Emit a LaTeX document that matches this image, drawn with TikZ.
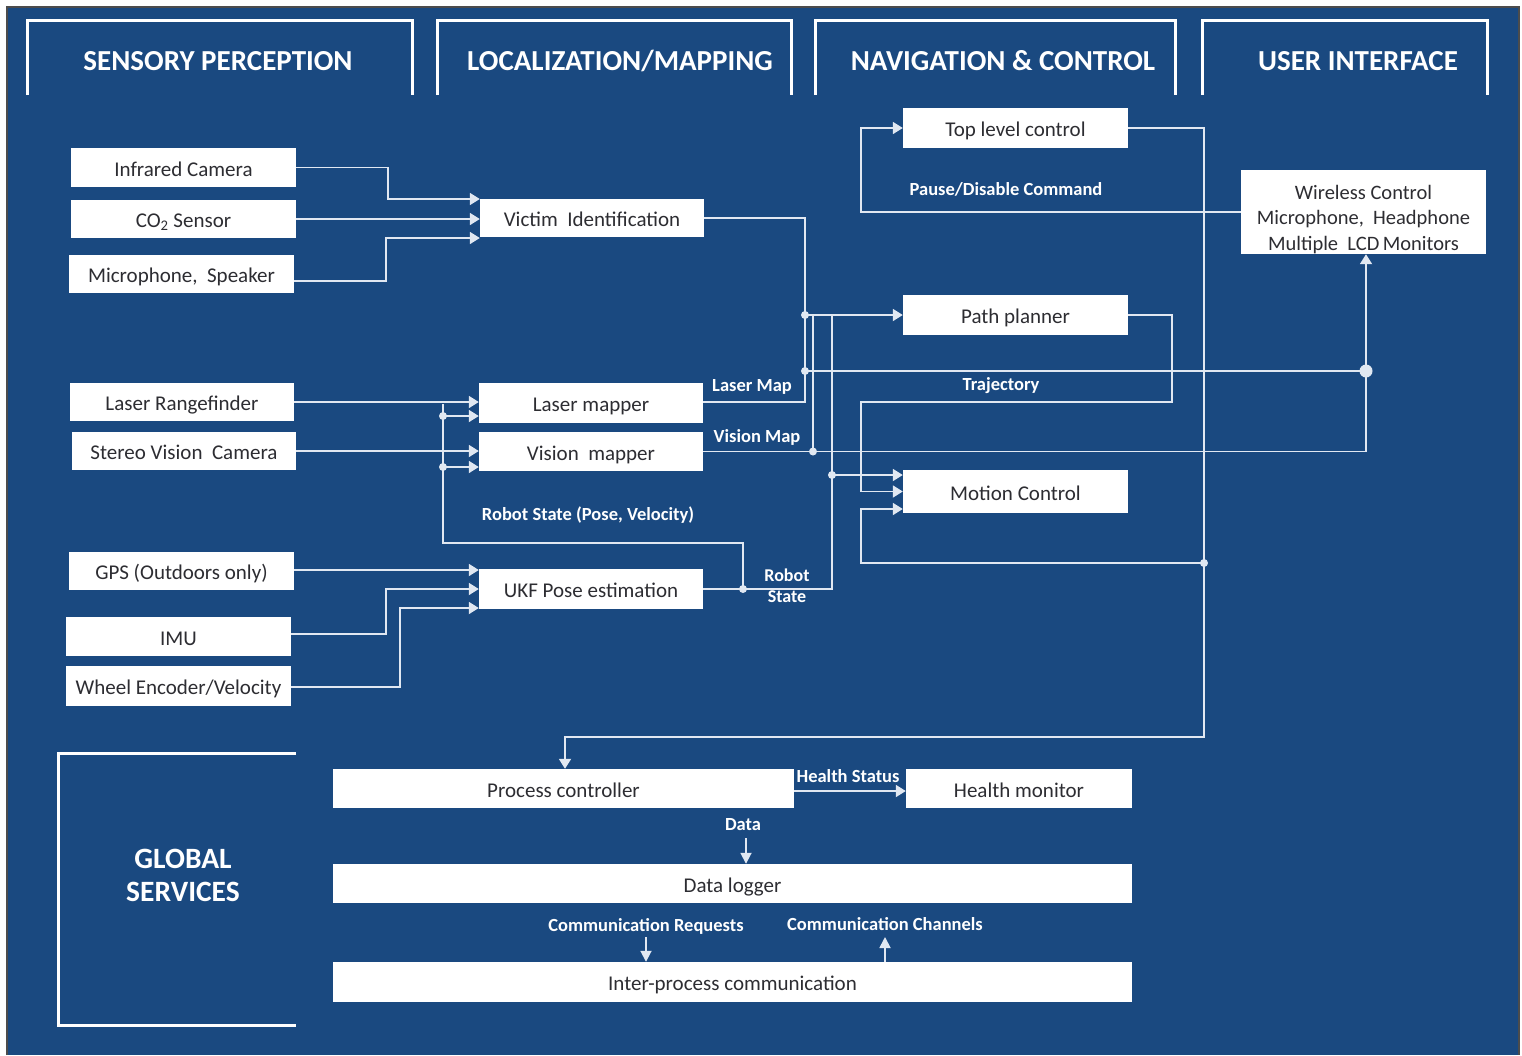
\documentclass[tikz,border=0pt]{standalone}
\usepackage{fontspec}
\setmainfont{Carlito}
\usetikzlibrary{arrows.meta}
\definecolor{bg}{RGB}{26,73,128}
\definecolor{wirec}{RGB}{225,232,242}
\definecolor{boxtext}{RGB}{45,45,50}
\tikzset{
  boxbase/.style={fill=white, draw=none, inner sep=0pt, text=boxtext},
  box/.style={boxbase, font=\fontsize{21}{25}\selectfont, text height=17pt, text depth=0pt},
  wire/.style={draw=wirec, line width=1.8pt},
  arr/.style={wire, -{Triangle[length=10pt,width=12pt]}},
  sarr/.style={wire, -{Triangle[length=11pt,width=11pt]}},
  jdot/.style={circle, fill=wirec, inner sep=0pt, minimum size=8pt},
  bigdot/.style={circle, fill=wirec, inner sep=0pt, minimum size=13pt},
  lbl/.style={text=white, font=\bfseries\fontsize{18.5}{21}\selectfont, inner sep=0pt, align=center},
  hdrtxt/.style={text=white, font=\bfseries\fontsize{29}{33}\selectfont, inner sep=0pt, align=center},
  hdr/.style={draw=white, line width=3pt},
}
\begin{document}
\begin{tikzpicture}[x=1pt,y=-1pt]
\useasboundingbox (0,0) rectangle (1522,1055);
\fill[white] (0,0) rectangle (1522,1055);
\fill[bg] (7,7) rectangle (1519,1055);
\draw[gray!60!black, line width=1.2pt] (7,1055) -- (7,7) -- (1519,7) -- (1519,1055);

% headers
\draw[hdr] (27,95) -- (27,20) -- (412,20) -- (412,95);
\draw[hdr] (437,95) -- (437,20) -- (791,20) -- (791,95);
\draw[hdr] (815,95) -- (815,20) -- (1175,20) -- (1175,95);
\draw[hdr] (1202,95) -- (1202,20) -- (1487,20) -- (1487,95);
\node[hdrtxt] (h1) at (218,61) {SENSORY PERCEPTION};
\node[hdrtxt] (h2) at (620,61) {LOCALIZATION/MAPPING};
\node[hdrtxt] (h3) at (1003,61) {NAVIGATION \& CONTROL};
\node[hdrtxt] (h4) at (1358,61) {USER INTERFACE};

% global services bracket
\draw[hdr] (296,753) -- (58,753) -- (58,1025) -- (296,1025);
\node[hdrtxt, font=\bfseries\fontsize{29.5}{33}\selectfont] (gs) at (183,875) {GLOBAL\\SERVICES};

% boxes
\node[box, minimum width=225pt, minimum height=39pt] (ir)  at (183.5,167.5) {Infrared Camera};
\node[box, minimum width=225pt, minimum height=38pt] (co2) at (183.5,219) {CO\textsubscript{2} Sensor};
\node[box, minimum width=225pt, minimum height=38pt] (mic) at (181.5,274) {Microphone,\ \ Speaker};
\node[box, minimum width=224pt, minimum height=38pt] (vic) at (592,218) {Victim\ \ Identification};
\node[box, minimum width=224pt, minimum height=38pt] (lrf) at (182,402) {Laser Rangefinder};
\node[box, minimum width=224pt, minimum height=38pt] (svc) at (184,451) {Stereo Vision\ \ Camera};
\node[box, minimum width=224pt, minimum height=40pt] (lm)  at (591,403) {Laser mapper};
\node[box, minimum width=224pt, minimum height=39pt] (vm)  at (591,451.5) {Vision\ \ mapper};
\node[box, minimum width=225pt, minimum height=38pt] (gps) at (181.5,571) {GPS (Outdoors only)};
\node[box, minimum width=225pt, minimum height=39pt] (imu) at (178.5,636.5) {IMU};
\node[box, minimum width=225pt, minimum height=40pt] (whl) at (178.5,686) {Wheel Encoder/Velocity};
\node[box, minimum width=224pt, minimum height=40pt] (ukf) at (591,589) {UKF Pose estimation};
\node[box, minimum width=225pt, minimum height=40pt] (top) at (1015.5,128) {Top level control};
\node[boxbase, minimum width=245pt, minimum height=84pt, font=\fontsize{20.5}{25.5}\selectfont] (wl) at (1363.5,212)
  {\raisebox{-13pt}[0pt][0pt]{\begin{tabular}{@{}c@{}}Wireless Control\\ Microphone,\ \ Headphone\\ Multiple\ \ LCD\,Monitors\end{tabular}}};
\node[box, minimum width=225pt, minimum height=40pt] (pp)  at (1015.5,315) {Path planner};
\node[box, minimum width=225pt, minimum height=43pt] (mc)  at (1015.5,491.5) {Motion Control};
\node[box, minimum width=461pt, minimum height=39pt] (pc)  at (563.5,788.5) {Process controller};
\node[box, minimum width=226pt, minimum height=39pt] (hm)  at (1019,788.5) {Health monitor};
\node[box, minimum width=799pt, minimum height=39pt] (dl)  at (732.5,883.5) {Data logger};
\node[box, minimum width=799pt, minimum height=40pt] (ipc) at (732.5,982) {Inter-process communication};

% junction coordinates
\coordinate (j1) at (805,315);
\coordinate (j2) at (805,371);
\coordinate (j3) at (813,451.5);
\coordinate (j4) at (832,475);
\coordinate (rsd) at (743,589);
\coordinate (rsc) at (832,589);
\coordinate (uidot) at (1366,371);
\coordinate (topdot) at (1204,563);
\coordinate (lmd) at (443,416);
\coordinate (vmd) at (443,467);

% sensory -> victim identification
\draw[arr] (ir.east) -- (388,167.5) -- (388,199) -- (vic.west |- 0,199);
\draw[arr] (co2.east) -- (vic.west |- co2.east);
\draw[arr] (mic.east |- 0,281) -- (386,281) -- (386,238) -- (vic.west |- 0,238);

% victim id / laser map bus
\draw[wire] (vic.east) -| (j1);
\draw[wire] (j1) -- (j2);
\draw[wire] (lm.east |- 0,402) -| (j2);
\draw[arr] (j1) -- (pp.west);
\draw[wire] (j2) -- (uidot);
\draw[arr] (uidot) -- (uidot |- wl.south);

% vision map
\draw[wire] (vm.east) -- (j3) -- (j3 -| uidot) -- (uidot);
\draw[wire] (j3) -- (j3 |- j1);

% robot state
\draw[wire] (ukf.east) -- (rsd) -- (rsc) -- (rsc |- j1);
\draw[arr] (j4) -- (j4 -| mc.west);
\draw[wire] (rsd) -- (743,543) -- (443,543) -- (443,404);
\draw[arr] (lmd) -- (lmd -| lm.west);
\draw[arr] (vmd) -- (vmd -| vm.west);
\draw[arr] (lrf.east) -- (lrf.east -| lm.west);
\draw[arr] (svc.east) -- (svc.east -| vm.west);

% inputs to UKF
\draw[arr] (gps.east |- 0,570) -- (ukf.west |- 0,570);
\draw[arr] (imu.east |- 0,634) -- (386,634) -- (386,589) -- (ukf.west);
\draw[arr] (whl.east |- 0,687) -- (400,687) -- (400,608) -- (ukf.west |- 0,608);

% path planner -> motion control
\draw[arr] (pp.east) -- (1172,315) -- (1172,402) -- (861,402) -- (861,491.5) -- (mc.west);

% top level control
\draw[arr] (top.east) -- (1204,128) -- (1204,737) -- (565,737) -- (pc.north -| 565,0);
\draw[arr] (topdot) -- (861,563) -- (861,509) -- (mc.west |- 0,509);

% wireless -> top level control
\draw[arr] (wl.west) -- (861,212) -- (861,128) -- (top.west);

% global services
\draw[arr] (pc.east |- 0,791) -- (hm.west |- 0,791);
\coordinate (datatop) at (746,838);
\draw[sarr] (datatop) -- (datatop |- dl.north);
\coordinate (crtop) at (646,937);
\draw[sarr] (crtop) -- (crtop |- ipc.north);
\coordinate (ccb) at (885,937);
\draw[sarr] (ccb |- ipc.north) -- (ccb);

% dots
\foreach \p in {j1,j2,j3,j4,rsd,topdot,lmd,vmd} \node[jdot] at (\p) {};
\node[bigdot] at (uidot) {};

% labels
\node[lbl] (lpause) at (1006,189) {Pause/Disable Command};
\node[lbl] (llaser) at (752,387) {Laser Map};
\node[lbl] (lvision) at (757,437) {Vision Map};
\node[lbl] (ltraj) at (1001,386) {Trajectory};
\node[lbl] (lrs) at (588,515) {Robot State (Pose, Velocity)};
\node[lbl, font=\bfseries\fontsize{18}{21}\selectfont] (lrs2) at (787,586) {Robot\\State};
\node[lbl] (lhs) at (848,776) {Health Status};
\node[lbl] (ldata) at (743,825) {Data};
\node[lbl] (lcr) at (646,926) {Communication Requests};
\node[lbl] (lcc) at (885,924) {Communication Channels};
\end{tikzpicture}
\end{document}
